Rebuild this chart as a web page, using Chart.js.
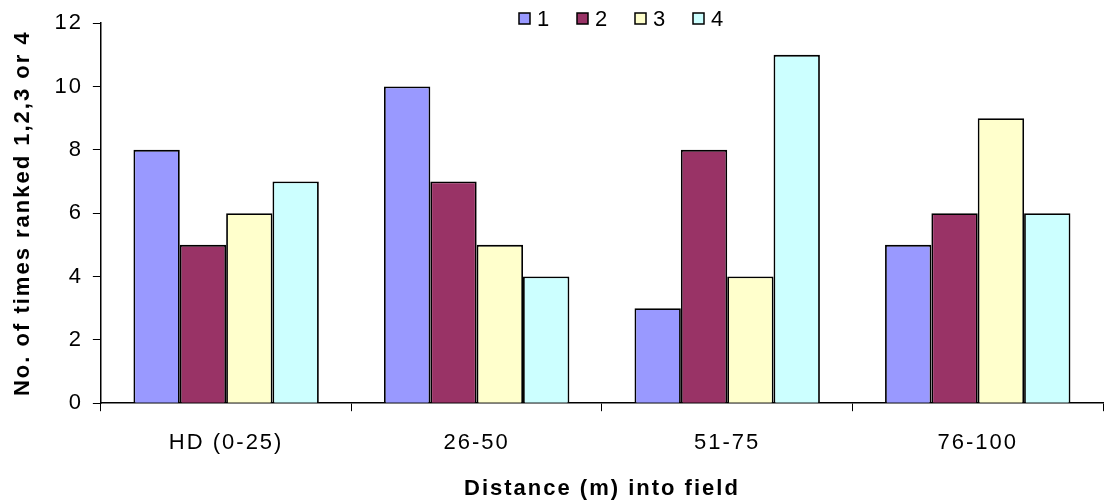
<!DOCTYPE html>
<html>
<head>
<meta charset="utf-8">
<script src="https://cdn.jsdelivr.net/npm/chart.js@4"></script>
<style>
  html, body { margin: 0; padding: 0; background: #fff; }
  #wrap { width: 1105px; height: 504px; }
</style>
</head>
<body>
<div id="wrap"><canvas id="chart"></canvas></div>
<script>
// data
const categories = ["HD (0-25)", "26-50", "51-75", "76-100"];
const rank1 = [8, 10, 3, 5];
const rank2 = [5, 7, 8, 6];
const rank3 = [6, 5, 4, 9];
const rank4 = [7, 4, 11, 6];
const seriesNames = ["1", "2", "3", "4"];
const seriesColors = ["#9999FF", "#993366", "#FFFFCC", "#CCFFFF"];

const allSeries = [rank1, rank2, rank3, rank4];

Chart.defaults.font.family = "'Liberation Sans', Arial, sans-serif";
Chart.defaults.color = "#000";

// the original text is set a bit wide, so spread the letters
const spacing = {
  id: "spacing",
  beforeUpdate(chart) { chart.ctx.letterSpacing = "2px"; },
  beforeDraw(chart) { chart.ctx.letterSpacing = "2px"; }
};

// legend sits inside the plot at the top, in one row
const topLegend = {
  id: "topLegend",
  afterDraw(chart) {
    const ctx = chart.ctx;
    const sets = chart.data.datasets;
    const step = 58;
    const startX = 519;
    const y = 19;
    ctx.save();
    ctx.font = "22px 'Liberation Sans', Arial, sans-serif";
    ctx.textBaseline = "middle";
    ctx.textAlign = "left";
    sets.forEach((ds, i) => {
      const x = startX + i * step;
      ctx.fillStyle = ds.backgroundColor;
      ctx.fillRect(x, y - 6, 11, 11);
      ctx.strokeStyle = "#000";
      ctx.lineWidth = 1.5;
      ctx.strokeRect(x, y - 6, 11, 11);
      ctx.fillStyle = "#000";
      ctx.fillText(ds.label, x + 18, y + 1);
    });
    ctx.restore();
  }
};

new Chart(document.getElementById("chart"), {
  type: "bar",
  data: {
    labels: categories,
    datasets: allSeries.map((vals, i) => ({
      label: seriesNames[i],
      data: vals,
      backgroundColor: seriesColors[i],
      borderColor: "#000",
      borderWidth: 1.8,
      categoryPercentage: 0.74,
      barPercentage: 1.0
    }))
  },
  plugins: [spacing, topLegend],
  options: {
    responsive: true,
    maintainAspectRatio: false,
    animation: false,
    layout: { padding: { top: 13, right: 2, left: 6, bottom: 0 } },
    plugins: {
      tooltip: { enabled: false },
      legend: { display: false }
    },
    scales: {
      x: {
        grid: {
          drawOnChartArea: false,
          color: "#000",
          tickLength: 8,
          offset: true
        },
        border: { color: "#000", width: 1.5 },
        ticks: { font: { size: 22 }, padding: 19 },
        title: {
          display: true,
          text: "Distance (m) into field",
          font: { size: 22, weight: "bold" },
          padding: { top: 0, bottom: 2 }
        }
      },
      y: {
        min: 0,
        max: 12,
        grid: {
          drawOnChartArea: false,
          color: "#000",
          tickLength: 8
        },
        border: { color: "#000", width: 1.5 },
        ticks: { stepSize: 2, font: { size: 22 }, padding: 10 },
        title: {
          display: true,
          text: "No. of times ranked 1,2,3 or 4",
          font: { size: 22, weight: "bold" },
          padding: { bottom: 8 }
        }
      }
    }
  }
});
</script>
</body>
</html>
